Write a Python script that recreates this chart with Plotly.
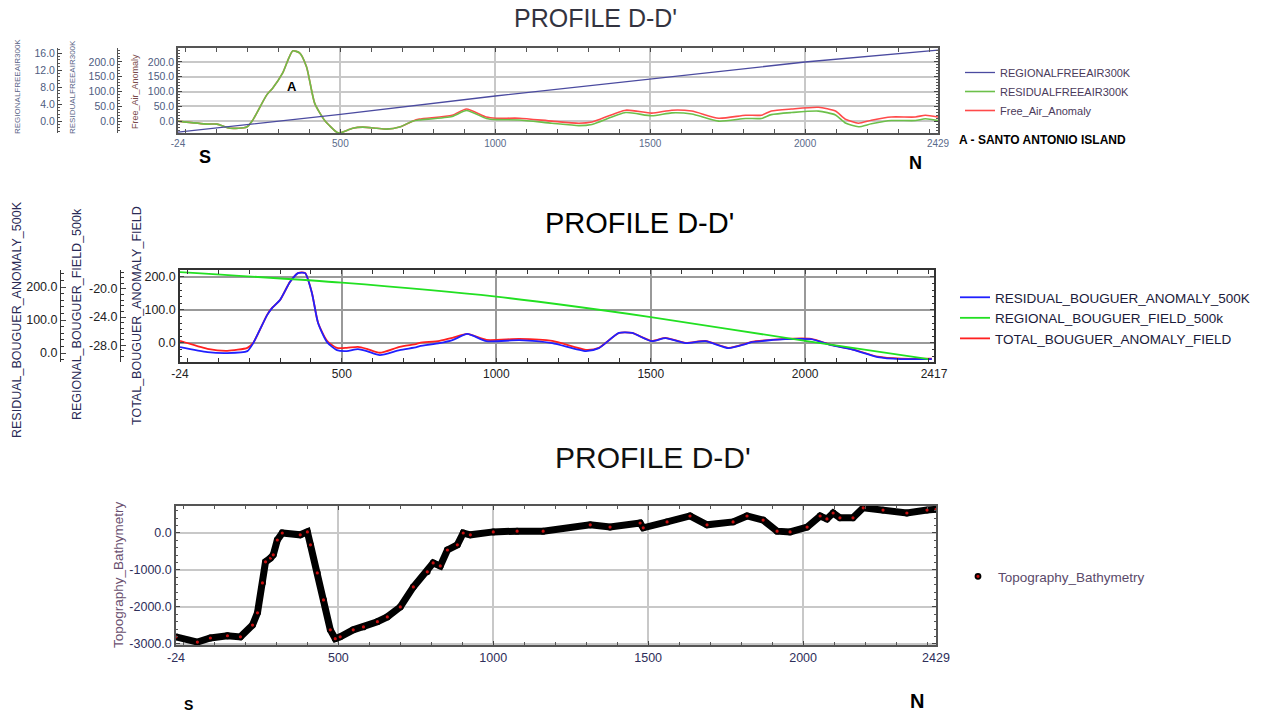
import plotly.graph_objects as go

W, H = 1269, 715

# ---------------- Panel 1: Free-air ----------------
fa_x = [-24, 70, 102, 144, 198, 217, 262, 282, 314, 346, 369, 391, 417, 449, 488, 498, 540, 572, 617, 649,
        691, 733, 755, 861, 907, 971, 1003, 1077, 1183, 1270, 1312, 1421, 1505, 1570, 1634, 1721, 1808, 1859,
        1891, 1956, 2043, 2098, 2130, 2172, 2214, 2278, 2356, 2388, 2429]
free_air = [0, -10, -10, -24, -20, 3, 88, 112, 163, 237, 230, 183, 61, 3, -37, -40, -24, -20, -24, -27,
            -20, 0, 7, 20, 41, 14, 10, 10, 0, -7, -3, 37, 27, 37, 34, 10, 20, 20,
            34, 41, 47, 34, 7, -7, 3, 14, 14, 20, 14]
residual_fa = [0, -10, -10, -24, -20, 3, 88, 112, 163, 237, 230, 183, 61, 3, -37, -40, -24, -20, -24, -27,
               -20, 0, 4, 16, 36, 9, 5, 4, -7, -15, -11, 29, 18, 28, 24, 0, 9, 9,
               22, 29, 34, 21, -6, -19, -9, 2, 2, 8, 2]
reg_fa_x = [-24, 500, 1000, 1500, 2000, 2429]
regional_fa = [-2.6, 1.6, 5.9, 9.9, 13.9, 16.7]

# ---------------- Panel 2: Bouguer ----------------
bg_x = [-24, 65, 129, 194, 213, 258, 274, 300, 332, 358, 381, 403, 423, 452, 484, 516, 552, 581, 623, 687,
        742, 752, 816, 858, 906, 968, 1074, 1181, 1290, 1332, 1397, 1439, 1503, 1548, 1613, 1677, 1752, 1806,
        1826, 1935, 2019, 2084, 2148, 2235, 2310, 2410]
residual_bg = [18, 3, 0, 6, 30, 115, 136, 161, 215, 242, 242, 182, 91, 33, 9, 6, 12, 6, -6, 9,
               18, 21, 30, 39, 58, 36, 39, 30, 6, 15, 61, 61, 36, 45, 30, 36, 15, 27,
               33, 42, 42, 24, 12, -12, -18, -18]
total_bg = [6, -18, -24, -15, 0, 85, 106, 130, 185, 212, 212, 152, 61, 6, -15, -15, -12, -18, -30, -12,
            -3, 0, 6, 15, 27, 9, 12, 6, -21, -15, 30, 30, 6, 15, 0, 6, -15, -3,
            3, 12, 12, -6, -18, -42, -48, -48]
reg_bg_x = [-24, 500, 1000, 1500, 2000, 2400]
regional_bg = [-17.6, -19.1, -21.1, -24.0, -27.4, -30.0]

# ---------------- Panel 3: Topography ----------------
topo_x = [-24, 45, 87, 142, 184, 223, 239, 255, 265, 281, 290, 303, 319, 377, 400, 410, 432, 452, 474, 490,
          506, 548, 581, 626, 658, 700, 742, 787, 806, 829, 852, 884, 903, 926, 1000, 1077, 1161, 1313, 1377,
          1474, 1484, 1561, 1635, 1690, 1774, 1819, 1871, 1916, 1958, 2013, 2055, 2077, 2097, 2119, 2161,
          2194, 2258, 2335, 2400, 2429]
topo = [-2810, -2950, -2840, -2780, -2810, -2490, -2160, -1350, -780, -680, -590, -190, 0, -50, 30, -320,
        -1080, -1810, -2620, -2860, -2810, -2620, -2540, -2400, -2270, -2000, -1460, -1050, -810, -890, -460,
        -320, 0, -50, 30, 50, 50, 220, 160, 270, 140, 300, 460, 220, 300, 460, 350, 50, 30, 160, 460, 380,
        540, 410, 410, 680, 620, 540, 620, 640]

x1_ticks = [-24, 500, 1000, 1500, 2000, 2429]
x2_ticks = [-24, 500, 1000, 1500, 2000, 2417]


def px(x):
    return x / W


def py(y):
    return 1 - y / H


fig = go.Figure()

# panel 1 traces
fig.add_trace(go.Scatter(x=reg_fa_x, y=regional_fa, name="REGIONALFREEAIR300K", mode="lines",
                         line=dict(color="#4b4ba0", width=1.3), xaxis="x", yaxis="y3", legend="legend"))
fig.add_trace(go.Scatter(x=fa_x, y=residual_fa, name="RESIDUALFREEAIR300K", mode="lines",
                         line=dict(color="#6cc04a", width=1.6, shape="spline", smoothing=0.6),
                         xaxis="x", yaxis="y2", legend="legend"))
fig.add_trace(go.Scatter(x=fa_x, y=free_air, name="Free_Air_Anomaly", mode="lines",
                         line=dict(color="#ff4a4a", width=1.6, shape="spline", smoothing=0.6),
                         xaxis="x", yaxis="y", legend="legend"))

# panel 2 traces
fig.add_trace(go.Scatter(x=bg_x, y=residual_bg, name="RESIDUAL_BOUGUER_ANOMALY_500K", mode="lines",
                         line=dict(color="#2020ff", width=1.8, shape="spline", smoothing=0.6),
                         xaxis="x2", yaxis="y5", legend="legend2"))
fig.add_trace(go.Scatter(x=reg_bg_x, y=regional_bg, name="REGIONAL_BOUGUER_FIELD_500k", mode="lines",
                         line=dict(color="#22e022", width=1.8, shape="spline", smoothing=0.6),
                         xaxis="x2", yaxis="y6", legend="legend2"))
fig.add_trace(go.Scatter(x=bg_x, y=total_bg, name="TOTAL_BOUGUER_ANOMALY_FIELD", mode="lines",
                         line=dict(color="#ff2020", width=1.8, shape="spline", smoothing=0.6),
                         xaxis="x2", yaxis="y4", legend="legend2"))

# panel 3 traces
fig.add_trace(go.Scatter(x=topo_x, y=topo, mode="lines", showlegend=False,
                         line=dict(color="#000000", width=7), xaxis="x3", yaxis="y7"))
fig.add_trace(go.Scatter(x=topo_x, y=topo, name="Topography_Bathymetry", mode="markers",
                         marker=dict(color="#c81010", size=5, line=dict(color="#000000", width=1.8)),
                         xaxis="x3", yaxis="y7", legend="legend3"))

grid1 = "#c8c8c8"
base_x = dict(showline=True, linewidth=1.5, mirror="allticks", ticks="inside", ticklen=4,
              zeroline=False, showgrid=True, gridwidth=2, automargin=False)


def fmt(vals):
    return [f"{v:.1f}" for v in vals]


fig.update_layout(
    width=W, height=H, margin=dict(l=0, r=0, t=0, b=0, autoexpand=False),
    paper_bgcolor="white", plot_bgcolor="white",
    font=dict(family="Liberation Sans, Arial, sans-serif"),
    # ---- panel 1
    xaxis=dict(domain=[px(178), px(938)], anchor="y", range=[-24, 2429],
               tickvals=x1_ticks, ticktext=[str(v) for v in x1_ticks],
               tickfont=dict(size=10, color="#5a6a8a"), linecolor="#555555", gridcolor=grid1,
               minor=dict(dtick=100, tick0=0, ticks="inside", ticklen=3, tickcolor="#555555", showgrid=False),
               **base_x),
    yaxis=dict(domain=[py(133), py(48)], anchor="x", range=[-40, 247], automargin=False,
               tickvals=[0, 50, 100, 150, 200], ticktext=fmt([0, 50, 100, 150, 200]),
               tickfont=dict(size=10.5, color="#4e5c80"), showline=True, linecolor="#555555", linewidth=1.5,
               mirror="allticks", ticks="inside", ticklen=4, gridcolor=grid1, gridwidth=1.5, zeroline=False,
               minor=dict(dtick=10, ticks="inside", ticklen=2, tickcolor="#555555", showgrid=False)),
    yaxis2=dict(overlaying="y", anchor="free", position=px(117), side="left", range=[-40, 247],
                automargin=False,
                tickvals=[0, 50, 100, 150, 200], ticktext=fmt([0, 50, 100, 150, 200]),
                tickfont=dict(size=10.5, color="#4e5c80"), showline=True, linecolor="#555555",
                ticks="inside", ticklen=4, showgrid=False, zeroline=False,
                minor=dict(dtick=10, ticks="inside", ticklen=2, tickcolor="#555555")),
    yaxis3=dict(overlaying="y", anchor="free", position=px(57), side="left", range=[-2.8, 17.2],
                automargin=False,
                tickvals=[0, 4, 8, 12, 16], ticktext=fmt([0, 4, 8, 12, 16]),
                tickfont=dict(size=10.5, color="#4e5c80"), showline=True, linecolor="#555555",
                ticks="inside", ticklen=4, showgrid=False, zeroline=False,
                minor=dict(dtick=0.8, ticks="inside", ticklen=2, tickcolor="#555555")),
    # ---- panel 2
    xaxis2=dict(domain=[px(180), px(934)], anchor="y4", range=[-24, 2417],
                tickvals=x2_ticks, ticktext=[str(v) for v in x2_ticks],
                tickfont=dict(size=12, color="#222222"), linecolor="#333333", gridcolor="#999999",
                minor=dict(dtick=100, tick0=0, ticks="inside", ticklen=4, tickcolor="#333333", showgrid=False),
                **base_x),
    yaxis4=dict(domain=[py(362), py(270)], anchor="x2", range=[-58, 221], automargin=False,
                tickvals=[0, 100, 200], ticktext=fmt([0, 100, 200]),
                tickfont=dict(size=12.5, color="#222222"), showline=True, linecolor="#333333", linewidth=1.5,
                mirror="allticks", ticks="inside", ticklen=4, gridcolor="#999999", gridwidth=1.5,
                zeroline=False,
                minor=dict(dtick=20, ticks="inside", ticklen=2, tickcolor="#333333", showgrid=False)),
    yaxis5=dict(overlaying="y4", anchor="free", position=px(60), side="left", range=[-27, 251.5],
                automargin=False,
                tickvals=[0, 100, 200], ticktext=fmt([0, 100, 200]),
                tickfont=dict(size=12.5, color="#222222"), showline=True, linecolor="#333333",
                ticks="inside", ticklen=5, showgrid=False, zeroline=False,
                minor=dict(dtick=20, ticks="inside", ticklen=3, tickcolor="#333333")),
    yaxis6=dict(overlaying="y4", anchor="free", position=px(120), side="left", range=[-30.4, -17.3],
                automargin=False,
                tickvals=[-28, -24, -20], ticktext=fmt([-28, -24, -20]),
                tickfont=dict(size=12.5, color="#222222"), showline=True, linecolor="#333333",
                ticks="inside", ticklen=5, showgrid=False, zeroline=False,
                minor=dict(dtick=0.8, ticks="inside", ticklen=3, tickcolor="#333333")),
    # ---- panel 3
    xaxis3=dict(domain=[px(176), px(936)], anchor="y7", range=[-24, 2429],
                tickvals=x1_ticks, ticktext=[str(v) for v in x1_ticks],
                tickfont=dict(size=12.5, color="#2e2e5a"), linecolor="#555555", gridcolor=grid1,
                minor=dict(dtick=100, tick0=0, ticks="inside", ticklen=3, tickcolor="#555555", showgrid=False),
                **base_x),
    yaxis7=dict(domain=[py(645), py(506)], anchor="x3", range=[-3030, 730], automargin=False,
                tickvals=[-3000, -2000, -1000, 0], ticktext=fmt([-3000, -2000, -1000, 0]),
                tickfont=dict(size=12.5, color="#2e2e5a"), showline=True, linecolor="#555555", linewidth=1.5,
                mirror="allticks", ticks="inside", ticklen=4, gridcolor=grid1, gridwidth=1.5, zeroline=False,
                minor=dict(dtick=200, ticks="inside", ticklen=2, tickcolor="#555555", showgrid=False)),
    legend=dict(x=px(960), y=py(58), xanchor="left", yanchor="top", bgcolor="rgba(0,0,0,0)",
                font=dict(size=11, color="#4a3a5a"), tracegroupgap=0, itemwidth=30),
    legend2=dict(x=px(955), y=py(282), xanchor="left", yanchor="top", bgcolor="rgba(0,0,0,0)",
                 font=dict(size=13.5, color="#1a1a3a"), itemwidth=30),
    legend3=dict(x=px(958), y=py(561), xanchor="left", yanchor="top", bgcolor="rgba(0,0,0,0)",
                 font=dict(size=13.5, color="#5a4a6a"), itemwidth=30),
)

ann = []


def add_text(text, x, y, size, color="#000", bold=False, angle=0, xanchor="center", family=None):
    ann.append(dict(text=f"<b>{text}</b>" if bold else text, x=px(x), y=py(y), xref="paper", yref="paper",
                    showarrow=False, textangle=angle, xanchor=xanchor, yanchor="middle",
                    font=dict(size=size, color=color, family=family or "Liberation Sans, Arial, sans-serif")))


add_text("PROFILE D-D'", 595, 18, 25, "#333340")
add_text("PROFILE D-D'", 640, 223, 29, "#000000")
add_text("PROFILE D-D'", 653, 457, 30, "#111111")
add_text("REGIONALFREEAIR300K", 17, 87, 8, "#5c6688", angle=-90)
add_text("RESIDUALFREEAIR300K", 72, 87, 8, "#5c6688", angle=-90)
add_text("Free_Air_Anomaly", 135, 92, 9, "#7a4a4a", angle=-90)
add_text("A", 292, 86, 13, bold=True)
add_text("S", 205, 157, 18, bold=True)
add_text("N", 915, 163, 18, bold=True)
add_text("A - SANTO ANTONIO ISLAND", 957, 140, 12, bold=True, xanchor="left")
add_text("RESIDUAL_BOUGUER_ANOMALY_500K", 17, 320, 12.5, "#2a2a55", angle=-90)
add_text("REGIONAL_BOUGUER_FIELD_500k", 77, 314, 12.5, "#2a2a55", angle=-90)
add_text("TOTAL_BOUGUER_ANOMALY_FIELD", 137, 316, 12.5, "#2a2a55", angle=-90)
add_text("Topography_Bathymetry", 118, 575, 13.5, "#6a5070", angle=-90)
add_text("S", 188, 705, 14, bold=True)
add_text("N", 917, 701, 20, bold=True)
fig.update_layout(annotations=ann)

fig.write_html("out.html", config={"displayModeBar": False},
               post_script="document.body.style.margin='0px';")
